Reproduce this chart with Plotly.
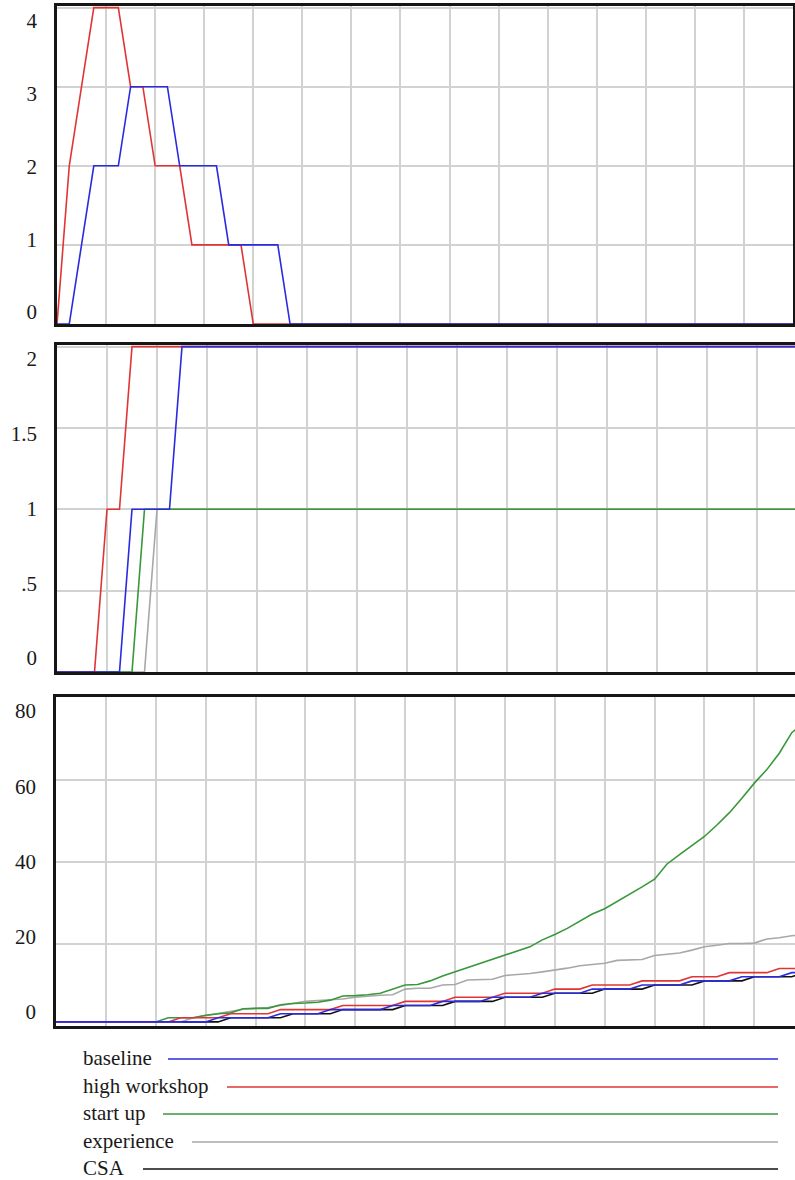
import plotly.graph_objects as go

# ---------------- data (time in model units, 0..60) ----------------
time = list(range(61))

series_names = ["baseline", "high workshop", "start up", "experience", "CSA"]
series_colors = ["#2a2ae0", "#e03535", "#38983a", "#a8a8a8", "#111111"]

# top panel
top_baseline = [0, 0, 1, 2, 2, 2, 3, 3, 3, 3, 2, 2, 2, 2, 1, 1, 1, 1, 1, 0,
                0, 0, 0, 0, 0, 0, 0, 0, 0, 0, 0, 0, 0, 0, 0, 0, 0, 0, 0, 0,
                0, 0, 0, 0, 0, 0, 0, 0, 0, 0, 0, 0, 0, 0, 0, 0, 0, 0, 0, 0, 0]
top_high_workshop = [0, 2, 3, 4, 4, 4, 3, 3, 2, 2, 2, 1, 1, 1, 1, 1, 0, 0, 0, 0,
                     0, 0, 0, 0, 0, 0, 0, 0, 0, 0, 0, 0, 0, 0, 0, 0, 0, 0, 0, 0,
                     0, 0, 0, 0, 0, 0, 0, 0, 0, 0, 0, 0, 0, 0, 0, 0, 0, 0, 0, 0, 0]

# middle panel
mid_baseline = [0, 0, 0, 0, 0, 0, 1, 1, 1, 1, 2, 2, 2, 2, 2, 2, 2, 2, 2, 2,
                2, 2, 2, 2, 2, 2, 2, 2, 2, 2, 2, 2, 2, 2, 2, 2, 2, 2, 2, 2,
                2, 2, 2, 2, 2, 2, 2, 2, 2, 2, 2, 2, 2, 2, 2, 2, 2, 2, 2, 2, 2]
mid_high_workshop = [0, 0, 0, 0, 1, 1, 2, 2, 2, 2, 2, 2, 2, 2, 2, 2, 2, 2, 2, 2,
                     2, 2, 2, 2, 2, 2, 2, 2, 2, 2, 2, 2, 2, 2, 2, 2, 2, 2, 2, 2,
                     2, 2, 2, 2, 2, 2, 2, 2, 2, 2, 2, 2, 2, 2, 2, 2, 2, 2, 2, 2, 2]
mid_start_up = [0, 0, 0, 0, 0, 0, 0, 1, 1, 1, 1, 1, 1, 1, 1, 1, 1, 1, 1, 1,
                1, 1, 1, 1, 1, 1, 1, 1, 1, 1, 1, 1, 1, 1, 1, 1, 1, 1, 1, 1,
                1, 1, 1, 1, 1, 1, 1, 1, 1, 1, 1, 1, 1, 1, 1, 1, 1, 1, 1, 1, 1]
mid_experience = [0, 0, 0, 0, 0, 0, 0, 0, 1, 1, 1, 1, 1, 1, 1, 1, 1, 1, 1, 1,
                  1, 1, 1, 1, 1, 1, 1, 1, 1, 1, 1, 1, 1, 1, 1, 1, 1, 1, 1, 1,
                  1, 1, 1, 1, 1, 1, 1, 1, 1, 1, 1, 1, 1, 1, 1, 1, 1, 1, 1, 1, 1]

# bottom panel
bot_baseline = [1, 1, 1, 1, 1, 1, 1, 1, 1, 1, 1, 1, 1, 2, 2, 2, 2, 2, 3, 3,
                3, 3, 4, 4, 4, 4, 4, 5, 5, 5, 5, 6, 6, 6, 6, 7, 7, 7, 7, 8,
                8, 8, 8, 9, 9, 9, 9, 10, 10, 10, 10, 11, 11, 11, 11, 12, 12, 12, 12, 13, 13]
bot_high_workshop = [1, 1, 1, 1, 1, 1, 1, 1, 1, 1, 2, 2, 2, 2, 3, 3, 3, 3, 4, 4,
                     4, 4, 4, 5, 5, 5, 5, 5, 6, 6, 6, 6, 7, 7, 7, 7, 8, 8, 8, 8,
                     9, 9, 9, 10, 10, 10, 10, 11, 11, 11, 11, 12, 12, 12, 13, 13, 13, 13, 14, 14, 14]
bot_start_up = [1, 1, 1, 1, 1, 1, 1, 1, 1, 2, 2, 2, 2.6, 3, 3.2, 4.2, 4.3, 4.3, 5.2, 5.5,
                5.6, 5.8, 6.3, 7.3, 7.4, 7.6, 8, 9, 10, 10.1, 11, 12.2, 13.2, 14.2, 15.2, 16.3, 17.3, 18.3, 19.3, 21,
                22.3, 23.8, 25.5, 27.3, 28.6, 30.3, 32, 33.9, 35.8, 39.5, 41.8, 44, 46.2, 49, 52, 55.5, 59.2, 62.5, 66.5, 71.5, 74]
bot_experience = [1, 1, 1, 1, 1, 1, 1, 1, 1, 1, 1, 2, 2.5, 3, 3.5, 4.1, 4.3, 4.5, 5, 5.5,
                  6, 6.2, 6.4, 6.6, 7, 7.3, 7.5, 7.6, 9, 9.2, 9.2, 10, 10.1, 11.2, 11.3, 11.4, 12.3, 12.5, 12.8, 13.2,
                  13.6, 14.1, 14.7, 15, 15.3, 16, 16.1, 16.2, 17.2, 17.5, 17.8, 18.5, 19.3, 19.7, 20.1, 20.1, 20.2, 21.2, 21.5, 22, 22.2]
bot_csa = [1, 1, 1, 1, 1, 1, 1, 1, 1, 1, 1, 1, 1, 1, 2, 2, 2, 2, 2, 3,
           3, 3, 3, 4, 4, 4, 4, 4, 5, 5, 5, 5, 6, 6, 6, 6, 7, 7, 7, 7,
           8, 8, 8, 8, 9, 9, 9, 9, 10, 10, 10, 10, 11, 11, 11, 11, 12, 12, 12, 12, 13]

top_ticks = [0, 1, 2, 3, 4]
top_ticktext = ["0", "1", "2", "3", "4"]
mid_ticks = [0, 0.5, 1, 1.5, 2]
mid_ticktext = ["0", ".5", "1", "1.5", "2"]
bot_ticks = [0, 20, 40, 60, 80]
bot_ticktext = ["0", "20", "40", "60", "80"]

# ---------------- layout constants ----------------
W, H = 795, 1180
FONT = "Liberation Serif"
TXT = "#1a1a1a"
GRID = "#d2d2d2"
BORDER = "#161616"


def px_x(p):
    return p / W


def px_y(p):
    return 1 - p / H


fig = go.Figure()

color = dict(zip(series_names, series_colors))


def add_line(xa, ya, name, vals):
    fig.add_trace(go.Scatter(x=time, y=vals, xaxis=xa, yaxis=ya, mode="lines",
                             line=dict(color=color[name], width=1.6),
                             name=name, showlegend=False, hoverinfo="skip"))


# top (draw order: bottom -> top, baseline on top)
add_line("x", "y", "high workshop", top_high_workshop)
add_line("x", "y", "baseline", top_baseline)
# middle
add_line("x2", "y3", "experience", mid_experience)
add_line("x2", "y3", "start up", mid_start_up)
add_line("x2", "y3", "high workshop", mid_high_workshop)
add_line("x2", "y3", "baseline", mid_baseline)
# bottom
add_line("x3", "y5", "CSA", bot_csa)
add_line("x3", "y5", "experience", bot_experience)
add_line("x3", "y5", "start up", bot_start_up)
add_line("x3", "y5", "high workshop", bot_high_workshop)
add_line("x3", "y5", "baseline", bot_baseline)

# empty traces binding the label axes
for xa, ya in [("x", "y2"), ("x2", "y4"), ("x3", "y6")]:
    fig.add_trace(go.Scatter(x=[None], y=[None], xaxis=xa, yaxis=ya, mode="lines",
                             showlegend=False, hoverinfo="skip"))

panels = [
    ("xaxis", "yaxis", "yaxis2", "y", 57, 793, 6, 324, [0, 60], [0, 4.02], [-0.165, 4.206], 1, top_ticks, top_ticktext, True),
    ("xaxis2", "yaxis3", "yaxis4", "y3", 57, 795, 345, 672, [0, 59.04], [0, 2.01], [-0.094, 2.094], 0.5, mid_ticks, mid_ticktext, False),
    ("xaxis3", "yaxis5", "yaxis6", "y5", 56, 795, 697, 1026, [0, 59.26], [0, 80.2], [-3.72, 83.72], 20, bot_ticks, bot_ticktext, False),
]

layout = dict(width=W, height=H, margin=dict(l=0, r=0, t=0, b=0),
              paper_bgcolor="white", plot_bgcolor="white", showlegend=False)

for (xk, yk, ylk, yref, l, r, t, b, xr, yr, ylr, dt, tv, tt, rb) in panels:
    xname = "x" if xk == "xaxis" else "x" + xk[5:]
    layout[xk] = dict(domain=[px_x(l), px_x(r)], range=xr, anchor=yref,
                      showgrid=True, gridcolor=GRID, gridwidth=1.5, tick0=0, dtick=4,
                      showticklabels=False, ticks="", zeroline=False,
                      showline=True, linecolor=BORDER, linewidth=2.6, mirror=True,
                      layer="below traces", fixedrange=True)
    layout[yk] = dict(domain=[px_y(b), px_y(t)], range=yr, anchor=xname,
                      showgrid=True, gridcolor=GRID, gridwidth=1.5, tick0=0, dtick=dt,
                      showticklabels=False, ticks="", zeroline=False,
                      showline=True, linecolor=BORDER, linewidth=2.6, mirror=rb,
                      layer="below traces", fixedrange=True)
    layout[ylk] = dict(overlaying=yref, anchor=xname, side="left", range=ylr,
                       showgrid=False, zeroline=False, showline=False, ticks="",
                       tickvals=tv, ticktext=tt, ticklabelstandoff=19,
                       tickfont=dict(family=FONT, size=21, color=TXT),
                       fixedrange=True)

fig.update_layout(**layout)

# ---------------- legend (text + line swatches) ----------------
legend_rows_px = [1058, 1086, 1113, 1141, 1168]
legend_text_x = 81
legend_line_start = [168, 227, 163, 192, 143]
legend_line_end = 778

for name, ypx, xs in zip(series_names, legend_rows_px, legend_line_start):
    fig.add_annotation(x=px_x(legend_text_x), y=px_y(ypx), xref="paper", yref="paper",
                       text=name, showarrow=False, xanchor="left", yanchor="middle",
                       font=dict(family=FONT, size=21, color=TXT))
    fig.add_shape(type="line", xref="paper", yref="paper",
                  x0=px_x(xs), x1=px_x(legend_line_end), y0=px_y(ypx + 1), y1=px_y(ypx + 1),
                  line=dict(color=color[name], width=1.6))

fig.write_html(
    "out.html",
    config={"displayModeBar": False},
    post_script="document.body.style.margin='0';document.body.style.overflow='hidden';",
)
